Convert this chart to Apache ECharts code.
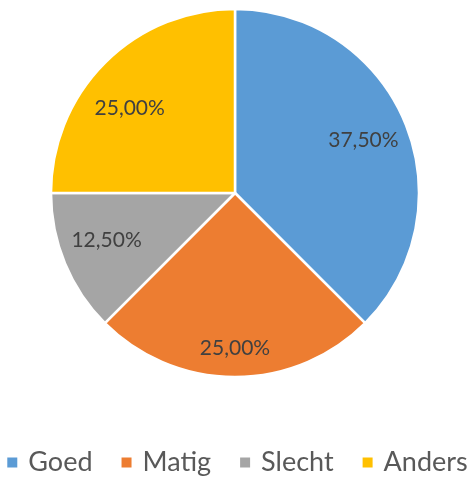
<!DOCTYPE html>
<html><head><meta charset="utf-8">
<script src="https://cdn.jsdelivr.net/npm/echarts@6/dist/echarts.min.js"></script>
<style>html,body{margin:0;padding:0;background:#fff}#c{width:473px;height:480px}</style>
</head><body><div id="c"></div>
<script>
const categories = ['Goed', 'Matig', 'Slecht', 'Anders'];
const values = [37.5, 25, 12.5, 25];
const colors = ['#5B9BD5', '#ED7D31', '#A5A5A5', '#FFC000'];

const chart = echarts.init(document.getElementById('c'));
const fmt = p => p.value.toFixed(2).replace('.', ',') + '%';
const data = categories.map((n, i) => ({ name: n, value: values[i], itemStyle: { color: colors[i] } }));
const labelNudge = [{}, { dy: 16 }, { dy: -6 }, { dx: -7, dy: 14 }];
chart.setOption({
  animation: false,
  legend: {
    top: 444, left: 'center',
    itemWidth: 12, itemHeight: 12, itemGap: 27, icon: 'rect',
    textStyle: { fontFamily: 'Lato', fontSize: 27, color: '#595959', padding: [0, 0, 0, 5] },
    data: categories
  },
  series: [{
    type: 'pie',
    center: [235, 193], radius: [0, 184],
    startAngle: 90, clockwise: true,
    itemStyle: { borderColor: '#fff', borderWidth: 2.5 },
    label: { show: false }, labelLine: { show: false },
    data: data
  }, {
    type: 'pie', silent: true,
    center: [235, 193], radius: [88, 184],
    startAngle: 90, clockwise: true,
    itemStyle: { color: 'transparent', borderWidth: 0 },
    label: { show: true, position: 'inside', formatter: fmt,
      fontFamily: 'Lato', fontSize: 21, color: '#404040' },
    labelLayout: p => labelNudge[p.dataIndex],
    labelLine: { show: false },
    data: categories.map((n, i) => ({ name: n, value: values[i] }))
  }]
});
</script></body></html>
